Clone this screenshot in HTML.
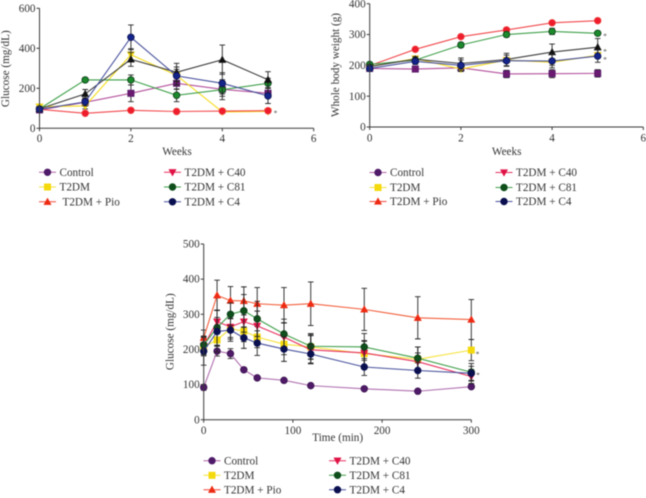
<!DOCTYPE html>
<html lang="en">
<head>
<meta charset="utf-8">
<title>Glucose and body weight charts</title>
<style>
html,body{margin:0;padding:0;background:#fff;width:646px;height:498px;overflow:hidden}
svg{display:block;filter:blur(0.4px)}
text{font-family:"Liberation Serif",serif;font-size:11.2px;fill:#333}
</style>
</head>
<body>
<svg id="root" xmlns="http://www.w3.org/2000/svg" width="646" height="498" viewBox="0 0 646 498"></svg>
<script>
// ---------- Shared data ----------
const seriesNames = ['Control','T2DM','T2DM + Pio','T2DM + C40','T2DM + C81','T2DM + C4'];
const weeks = [0,1,2,3,4,5];
const minutes = [0,15,30,45,60,90,120,180,240,300];

// ---------- Panel A: glucose by week ----------
const aTicksX = [0,2,4,6];
const aTicksY = [0,200,400,600];
const aControl = [92,130,175,225,195,175];
const aT2dm    = [108,112,368,265,82,84];
const aPio     = [95,75,90,84,86,88];
const aGreen   = [97,242,242,165,193,225];
const aBlack   = [97,172,345,280,343,243];
const aBlue    = [95,132,455,262,225,162];
const aControlErr = [8,10,42,30,35,15];
const aT2dmErr    = [6,15,30,30,6,6];
const aPioErr     = [5,5,6,5,5,5];
const aGreenErr   = [6,10,25,32,50,25];
const aBlackErr   = [6,22,35,45,73,40];
const aBlueErr    = [6,20,62,45,53,38];

// ---------- Panel B: whole body weight ----------
const bTicksX = [0,2,4,6];
const bTicksY = [0,100,200,300,400];
const bControl = [190,188,192,172,173,174];
const bT2dm    = [196,222,188,217,210,233];
const bPio     = [199,252,293,315,338,345];
const bGreen   = [203,217,266,300,310,304];
const bBlack   = [196,220,206,219,243,259];
const bBlue    = [190,213,200,215,214,230];
const bControlErr = [6,6,6,12,13,12];
const bT2dmErr    = [5,6,8,8,10,8];
const bPioErr     = [5,5,6,6,6,6];
const bGreenErr   = [5,6,8,8,10,6];
const bBlackErr   = [6,8,18,20,26,28];
const bBlueErr    = [6,10,18,18,22,20];

// ---------- Panel C: glucose tolerance ----------
const cTicksX = [0,100,200,300];
const cTicksY = [0,100,200,300,400,500];
const cControl = [92,195,188,142,119,112,97,88,81,94];
const cT2dm    = [207,227,259,252,235,215,207,188,172,198];
const cPio     = [233,354,339,338,330,326,330,314,290,285];
const cC40     = [210,279,264,279,267,235,199,190,165,123];
const cC81     = [213,262,300,310,287,244,209,207,175,135];
const cC4      = [195,251,255,233,218,201,187,150,140,132];
const cControlErr = [8,14,14,6,5,5,5,5,5,5];
const cT2dmErr    = [25,35,30,30,30,30,35,35,35,30];
const cPioErr     = [22,43,40,40,46,50,62,60,60,57];
const cC40Err     = [25,32,30,30,42,40,40,35,25,20];
const cC81Err     = [25,50,32,46,50,42,36,38,32,25];
const cC4Err      = [40,40,32,30,35,35,26,24,22,20];

const lineColors = ['#b060a8','#f5e23a','#f2483c','#e8305e','#3fa04a','#47509c'];
const fills = ['#4f1a68','#f4d90c','#ee2a12','#e01245','#0f4f1c','#0a0f50'];

const root = document.getElementById('root');
const NS = 'http://www.w3.org/2000/svg';

function make(tag, attrs, parent) {
  const el = document.createElementNS(NS, tag);
  for (const k in attrs) el.setAttribute(k, attrs[k]);
  (parent || root).appendChild(el);
  return el;
}

function marker(g, shape, x, y, fill, stroke) {
  let el;
  if (shape === 'square') {
    el = make('rect', {x: x-3.2, y: y-3.2, width: 6.4, height: 6.4, fill: fill, stroke: stroke, 'stroke-width': 0.6}, g);
  } else if (shape === 'up') {
    el = make('polygon', {points: (x)+','+(y-3.8)+' '+(x+3.7)+','+(y+2.9)+' '+(x-3.7)+','+(y+2.9), fill: fill, stroke: stroke, 'stroke-width': 0.4}, g);
  } else if (shape === 'down') {
    el = make('polygon', {points: (x)+','+(y+3.8)+' '+(x+3.7)+','+(y-2.9)+' '+(x-3.7)+','+(y-2.9), fill: fill, stroke: stroke, 'stroke-width': 0.4}, g);
  } else {
    el = make('circle', {cx: x, cy: y, r: 3.3, fill: fill, stroke: stroke, 'stroke-width': 0.8}, g);
  }
  return el;
}

function drawAxes(p) {
  const g = make('g', {});
  
  
  const ax = '#3a3a3a';
  make('line', {x1: p.sx(p.ticksX[0]), x2: p.sx(p.ticksX[p.ticksX.length-1]), y1: p.sy(0), y2: p.sy(0), stroke: ax, 'stroke-width': 1}, g);
  make('line', {x1: p.sx(0), x2: p.sx(0), y1: p.sy(0)+0.5, y2: p.sy(p.ticksY[p.ticksY.length-1]), stroke: ax, 'stroke-width': 1}, g);
  p.ticksX.forEach(function (t) {
    make('line', {x1: p.sx(t), x2: p.sx(t), y1: p.sy(0), y2: p.sy(0)+3, stroke: ax, 'stroke-width': 1}, g);
    const label = make('text', {x: p.sx(t), y: p.tickXBase, 'text-anchor': 'middle'}, g);
    label.textContent = t;
    
    
  });
  p.ticksY.forEach(function (t) {
    make('line', {x1: p.sx(0)-3, x2: p.sx(0), y1: p.sy(t), y2: p.sy(t), stroke: ax, 'stroke-width': 1}, g);
    const label = make('text', {x: p.sx(0)-4, y: p.sy(t)+3.6, 'text-anchor': 'end'}, g);
    label.textContent = t;
    
    
  });
  const xt = make('text', {x: p.xTitle[0], y: p.xTitle[1], 'text-anchor': 'middle'}, g);
  xt.textContent = p.xLabel;
  
  
  const yt = make('text', {x: 0, y: 0, 'text-anchor': 'middle', transform: 'translate(' + p.yTitle[0] + ',' + p.yTitle[1] + ') rotate(-90)'}, g);
  yt.textContent = p.yLabel;
  
  
}

function drawSeries(p) {
  p.series.forEach(function (s) {
    const g = make('g', {});
    
    
    s.values.forEach(function (v, i) {
      const x = p.sx(p.xs[i]);
      const e = s.err[i];
      const y1 = p.sy(v - e), y2 = p.sy(v + e);
      const d = 'M' + x + ' ' + y1 + 'V' + y2 + 'M' + (x-2.8) + ' ' + y1 + 'H' + (x+2.8) + 'M' + (x-2.8) + ' ' + y2 + 'H' + (x+2.8);
      make('path', {d: d, fill: 'none', stroke: '#222', 'stroke-width': 0.9}, g);
    });
    const pts = s.values.map(function (v, i) { return p.sx(p.xs[i]) + ',' + p.sy(v); }).join(' ');
    make('polyline', {points: pts, fill: 'none', stroke: s.line, 'stroke-width': 1.1}, g);
    s.values.forEach(function (v, i) {
      marker(g, s.shape, p.sx(p.xs[i]), p.sy(v), s.fill, s.edge);
    });
  });
}

function drawLegend(p) {
  const rows = [p.leg.y[0], p.leg.y[1], p.leg.y[2]];
  const styleShapes = ['circle','square','up','down','circle','circle'];
  seriesNames.forEach(function (name, i) {
    const col = i < 3 ? 0 : 1;
    const y = rows[i % 3];
    const lx = p.leg.x[col];
    const g = make('g', {});
    
    
    make('line', {x1: lx, x2: lx + 17, y1: y, y2: y, stroke: lineColors[i], 'stroke-width': 1}, g);
    marker(g, styleShapes[i], lx + 8.5, y, fills[i], fills[i]);
    const nudge = (i === 2 && p.leg.pioNudge) ? p.leg.pioNudge : 0;
    const t = make('text', {x: lx + 20.5 + nudge, y: y + 3.6}, g);
    t.textContent = name;
  });
}

function drawStars(p) {
  p.stars.forEach(function (s) {
    const t = make('text', {x: s[0], y: s[1] + 3, 'text-anchor': 'middle', style: 'font-size:7px'});
    t.textContent = '*';
    
    
  });
}

function linear(d0, d1, r0, r1) {
  return function (v) { return r0 + (v - d0) * (r1 - r0) / (d1 - d0); };
}

const panels = [
  {
    id: 'glucose-weeks', xs: weeks, ticksX: aTicksX, ticksY: aTicksY,
    sx: linear(0, 6, 39.5, 313.7), sy: linear(0, 600, 128.3, 8.3),
    tickXBase: 142, xLabel: 'Weeks', yLabel: 'Glucose (mg/dL)', xTitle: [177, 155], yTitle: [9, 68.7],
    series: [
      {key: 'control', values: aControl, err: aControlErr, line: '#b3509c', shape: 'square', fill: '#6a1a70', edge: '#4f1a68'},
      {key: 't2dm', values: aT2dm, err: aT2dmErr, line: '#f5dd20', shape: 'down', fill: '#f4d90c', edge: '#e8c80c'},
      {key: 'pio', values: aPio, err: aPioErr, line: '#f2484c', shape: 'circle', fill: '#ee1c2c', edge: '#ee3a3a'},
      {key: 'c81', values: aGreen, err: aGreenErr, line: '#3fa04a', shape: 'circle', fill: '#1c8a2c', edge: '#0a3a14'},
      {key: 'black', values: aBlack, err: aBlackErr, line: '#3c3c3c', shape: 'up', fill: '#111', edge: '#111'},
      {key: 'c4', values: aBlue, err: aBlueErr, line: '#47509c', shape: 'circle', fill: '#14248a', edge: '#0a1050'}
    ],
    leg: {x: [39, 164], y: [172.3, 187, 201.8], pioNudge: 3},
    stars: [[275.5, 112.5]]
  },
  {
    id: 'body-weight', xs: weeks, ticksX: bTicksX, ticksY: bTicksY,
    sx: linear(0, 6, 369.7, 643.3), sy: linear(0, 400, 127, 3.7),
    tickXBase: 141.5, xLabel: 'Weeks', yLabel: 'Whole body weight (g)', xTitle: [506.7, 155], yTitle: [339, 65],
    series: [
      {key: 'control', values: bControl, err: bControlErr, line: '#b3509c', shape: 'square', fill: '#6a1a70', edge: '#4f1a68'},
      {key: 't2dm', values: bT2dm, err: bT2dmErr, line: '#f5dd20', shape: 'down', fill: '#f4d90c', edge: '#e8c80c'},
      {key: 'pio', values: bPio, err: bPioErr, line: '#f2484c', shape: 'circle', fill: '#ee1c2c', edge: '#ee3a3a'},
      {key: 'c81', values: bGreen, err: bGreenErr, line: '#3fa04a', shape: 'circle', fill: '#1c8a2c', edge: '#0a3a14'},
      {key: 'black', values: bBlack, err: bBlackErr, line: '#3c3c3c', shape: 'up', fill: '#111', edge: '#111'},
      {key: 'c4', values: bBlue, err: bBlueErr, line: '#47509c', shape: 'circle', fill: '#14248a', edge: '#0a1050'}
    ],
    leg: {x: [369.5, 495.5], y: [172.5, 187.5, 201.5]},
    stars: [[605, 35.5], [605, 51], [605, 59]]
  },
  {
    id: 'glucose-minutes', xs: minutes, ticksX: cTicksX, ticksY: cTicksY,
    sx: linear(0, 300, 203.7, 471.3), sy: linear(0, 500, 419.7, 244),
    tickXBase: 434, xLabel: 'Time (min)', yLabel: 'Glucose (mg/dL)', xTitle: [337.7, 441], yTitle: [173.5, 331.7],
    series: [
      {key: 'control', values: cControl, err: cControlErr, line: '#b070b0', shape: 'circle', fill: '#4f1a68', edge: '#3c1250'},
      {key: 't2dm', values: cT2dm, err: cT2dmErr, line: '#f5e23a', shape: 'square', fill: '#f4d90c', edge: '#f4d90c'},
      {key: 'pio', values: cPio, err: cPioErr, line: '#f2603c', shape: 'up', fill: '#ee2a12', edge: '#ee2a12'},
      {key: 'c40', values: cC40, err: cC40Err, line: '#e8305e', shape: 'down', fill: '#e01245', edge: '#e01245'},
      {key: 'c81', values: cC81, err: cC81Err, line: '#3fa04a', shape: 'circle', fill: '#0f4f1c', edge: '#0a3a14'},
      {key: 'c4', values: cC4, err: cC4Err, line: '#47509c', shape: 'circle', fill: '#0a0f50', edge: '#0a0f50'}
    ],
    leg: {x: [203.5, 329], y: [460.7, 475.3, 489.7]},
    stars: [[477.5, 353.5], [478, 374.5]]
  }
];

panels.forEach(function (p) {
  drawSeries(p);
  drawAxes(p);
  drawLegend(p);
  drawStars(p);
});
</script>
</body>
</html>
